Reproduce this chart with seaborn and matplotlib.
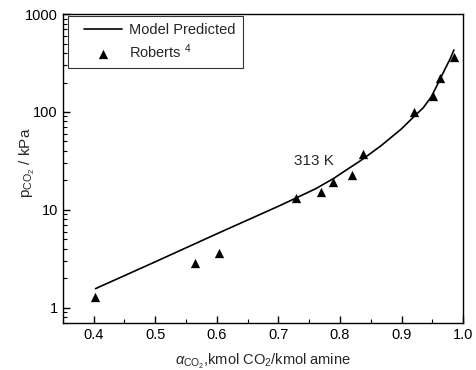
import numpy as np
import pandas as pd
import matplotlib
matplotlib.use("Agg")
import matplotlib.pyplot as plt
import matplotlib.ticker as mticker
from matplotlib.lines import Line2D
from matplotlib.collections import PathCollection
from matplotlib.legend_handler import HandlerLine2D, HandlerPathCollection
import seaborn as sns

# ----------------------------
# Dados
# ----------------------------
alpha_modelo = [0.403, 0.50, 0.60, 0.70, 0.725, 0.76, 0.79, 0.81, 0.834, 0.867,
                0.90, 0.92, 0.935, 0.948, 0.96, 0.97, 0.979, 0.985]
p_modelo = [1.57, 2.95, 5.7, 10.9, 12.9, 16.4, 21.0, 25.5, 32.0, 45.4,
            67.4, 89.7, 110.0, 142.0, 200.0, 270.0, 350.0, 430.0]

alpha_roberts = [0.402, 0.564, 0.603, 0.729, 0.770, 0.789, 0.820, 0.838,
                 0.921, 0.951, 0.962, 0.985]
p_roberts = [1.29, 2.88, 3.64, 13.3, 15.3, 19.3, 22.8, 37.3,
             100.0, 146.0, 222.0, 364.0]

x_ticks = [0.4, 0.5, 0.6, 0.7, 0.8, 0.9, 1.0]
y_ticks = [1, 10, 100, 1000]

df_modelo = pd.DataFrame({"alpha": alpha_modelo, "p": p_modelo})
df_roberts = pd.DataFrame({"alpha": alpha_roberts, "p": p_roberts})

# ----------------------------
# Estilo
# ----------------------------
sns.set_style("ticks")
plt.rcParams["font.family"] = ["Liberation Sans", "DejaVu Sans"]
plt.rcParams["mathtext.fontset"] = "custom"
plt.rcParams["mathtext.rm"] = "Liberation Sans"
plt.rcParams["mathtext.it"] = "Liberation Sans:italic"
plt.rcParams["mathtext.bf"] = "Liberation Sans:bold"

fig = plt.figure(figsize=(4.76, 3.70), dpi=100)
ax = fig.add_axes([0.132, 0.127, 0.841, 0.835])

sns.lineplot(data=df_modelo, x="alpha", y="p", color="black", linewidth=1.2,
             label="Model Predicted", ax=ax)
sns.scatterplot(data=df_roberts, x="alpha", y="p", marker="^", color="black",
                s=45, edgecolor="black", linewidth=0, label="Roberts $^4$", ax=ax)

ax.set_yscale("log")
ax.set_xlim(0.35, 1.0)
ax.set_ylim(0.7, 1000)

ax.set_xticks(x_ticks)
ax.set_xticklabels([f"{v:.1f}" for v in x_ticks])
ax.xaxis.set_minor_locator(mticker.MultipleLocator(0.05))
ax.set_yticks(y_ticks)
ax.set_yticklabels([str(v) for v in y_ticks])
ax.yaxis.set_minor_locator(mticker.LogLocator(base=10, subs=np.arange(2, 10)))
ax.yaxis.set_minor_formatter(mticker.NullFormatter())

ax.tick_params(which="both", direction="in", labelsize=10.5, colors="black")
ax.tick_params(which="major", length=5, width=1)
ax.tick_params(which="minor", length=3, width=0.8)
for s in ax.spines.values():
    s.set_linewidth(1.0)
    s.set_color("black")

ax.set_xlabel(r"$\alpha_{\mathrm{CO_2}}$,kmol CO$_2$/kmol amine", fontsize=10.5)
ax.xaxis.set_label_coords(0.5, -0.095)
ax.set_ylabel(r"p$_{\mathrm{CO_2}}$ / kPa", fontsize=11)
ax.yaxis.set_label_coords(-0.064, 0.52)

ax.text(0.725, 31.6, "313 K", fontsize=11, ha="left", va="center")

leg = ax.legend(loc="upper left", bbox_to_anchor=(0.012, 0.995), borderaxespad=0,
                fontsize=10.5, frameon=True, fancybox=False, edgecolor="black",
                handlelength=3.2, handletextpad=0.5, borderpad=0.5,
                labelspacing=0.35,
                handler_map={Line2D: HandlerLine2D(xpad=0.6),
                             PathCollection: HandlerPathCollection(xpad=0.6)})
leg.get_frame().set_linewidth(0.8)

fig.savefig("out.png", dpi=100)
